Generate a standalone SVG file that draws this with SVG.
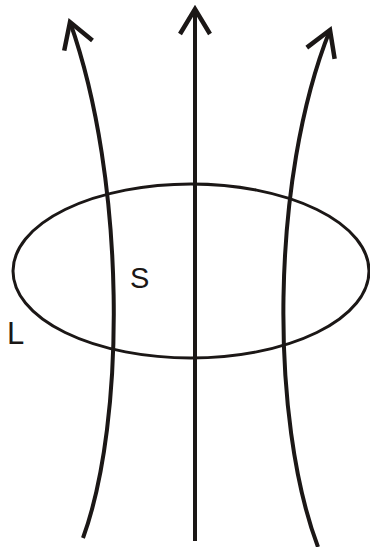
<svg xmlns="http://www.w3.org/2000/svg" width="370" height="547" viewBox="0 0 370 547">
<style>
.line{fill:none;stroke:#1b1716;stroke-width:4}
.loop{fill:none;stroke:#1b1716;stroke-width:3}
.lbl{font-family:"Liberation Sans",Arial,sans-serif;font-size:30px;fill:#1b1716}
</style>
<defs>
<marker id="chev" markerUnits="userSpaceOnUse" markerWidth="40" markerHeight="40" refX="0" refY="0" orient="auto" viewBox="-30 -20 40 40" overflow="visible">
<path d="M -25 -15 L 0 0 L -25 15" fill="none" stroke="#1b1716" stroke-width="4.5" stroke-linejoin="miter"/>
</marker>
</defs>
<rect width="370" height="547" fill="#fff"/>
<g id="loop-L">
<ellipse class="loop" cx="191" cy="271" rx="178" ry="87"/>
<text class="lbl" x="7" y="344" style="font-size:31px">L</text>
</g>
<g id="surface-S">
<text class="lbl" x="130" y="288" style="font-size:29px">S</text>
</g>
<g id="field-lines">
<path class="line" d="M 83 538 C 126 420, 126 180, 70 22" marker-end="url(#chev)"/>
<path class="line" d="M 195 541 L 195 9" marker-end="url(#chev)"/>
<path class="line" d="M 318 547 C 270 420, 270 180, 330 30" marker-end="url(#chev)"/>
</g>
</svg>
